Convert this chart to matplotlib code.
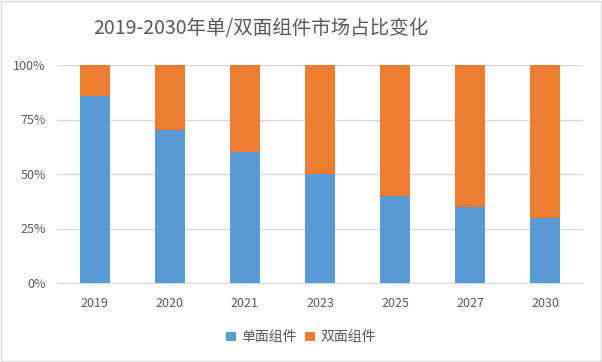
import matplotlib.pyplot as plt
from matplotlib.patches import Rectangle
from matplotlib.ticker import PercentFormatter

plt.rcParams['font.family'] = ['Noto Sans CJK SC', 'DejaVu Sans']

years = ['2019', '2020', '2021', '2023', '2025', '2027', '2030']
single = [86, 70, 60, 50, 40, 35, 30]
double = [100 - v for v in single]

blue = '#5b9bd5'
orange = '#ed7d31'
grey = '#595959'

fig = plt.figure(figsize=(6.02, 3.62), dpi=100)
ax = fig.add_axes([57/602, 1-283/362, 526/602, 218/362])

x = range(len(years))
ax.bar(x, single, width=0.4, color=blue, label='单面组件', zorder=3)
ax.bar(x, double, width=0.4, bottom=single, color=orange, label='双面组件', zorder=3)

ax.set_xlim(-0.5, len(years) - 0.5)
ax.set_ylim(0, 100)
ax.set_yticks([0, 25, 50, 75, 100])
ax.yaxis.set_major_formatter(PercentFormatter(decimals=0))
ax.set_xticks(list(x))
ax.set_xticklabels(years)
ax.grid(axis='y', color='#d9d9d9', linewidth=1, zorder=0)
for s in ['top', 'right', 'left']:
    ax.spines[s].set_visible(False)
ax.spines['bottom'].set_color('#d9d9d9')
ax.tick_params(length=0, colors=grey, labelsize=9)
ax.tick_params(axis='x', pad=10)
ax.tick_params(axis='y', pad=8)

fig.text(0.434, 0.92, '2019-2030年单/双面组件市场占比变化', ha='center', va='center',
         fontsize=14, color=grey)
fig.legend(loc='center', bbox_to_anchor=(0.5, 0.068), ncol=2, frameon=False,
           fontsize=10, labelcolor=grey, handlelength=0.7, handleheight=0.7,
           handletextpad=0.4, columnspacing=0.6)

fig.patches.append(Rectangle((0.002, 0.003), 0.996, 0.994, transform=fig.transFigure,
                             fill=False, edgecolor='#d9d9d9', linewidth=1))

fig.savefig('out.png', dpi=100)
